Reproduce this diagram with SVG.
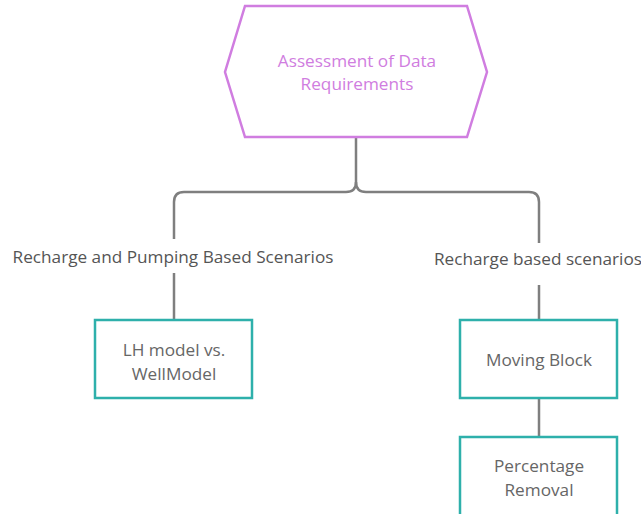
<svg xmlns="http://www.w3.org/2000/svg" width="641" height="514" viewBox="0 0 641 514">
  <style>
    .conn { fill: none; stroke: #7f7f7f; stroke-width: 2.5; }
    .box { fill: #ffffff; stroke: #2eb0ab; stroke-width: 2.5; }
    .hex { fill: #ffffff; stroke: #d07de0; stroke-width: 2.5; }
    text { font-family: "Open Sans", "Noto Sans", sans-serif; font-size: 17.2px; text-anchor: middle; }
    .t { fill: #666666; }
    .lbl { fill: #555555; }
    .ht { fill: #d07de0; }
  </style>
  <rect width="641" height="514" fill="#ffffff"/>
  <g id="connectors">
    <path class="conn" d="M356,137 V182 Q356,192 346,192 H184 Q174,192 174,202 V239"/>
    <path class="conn" d="M356,182 Q356,192 366,192 H529 Q539,192 539,202 V243"/>
    <path class="conn" d="M174,273 V320"/>
    <path class="conn" d="M539,285 V320"/>
    <path class="conn" d="M539,398 V437"/>
    <text class="lbl" x="173" y="263">Recharge and Pumping Based Scenarios</text>
    <text class="lbl" x="538" y="265">Recharge based scenarios</text>
  </g>
  <g id="assessment">
    <polygon class="hex" points="245,6 467,6 487,72 467,137 245,137 225,72"/>
    <text class="ht" x="357" y="67">Assessment of Data</text>
    <text class="ht" x="357" y="90">Requirements</text>
  </g>
  <g id="lh-model">
    <rect class="box" x="95" y="320" width="157" height="78"/>
    <text class="t" x="174" y="356">LH model vs.</text>
    <text class="t" x="174" y="380">WellModel</text>
  </g>
  <g id="moving-block">
    <rect class="box" x="460" y="320" width="157" height="78"/>
    <text class="t" x="539" y="366">Moving Block</text>
  </g>
  <g id="percentage-removal">
    <rect class="box" x="460" y="437" width="157" height="90"/>
    <text class="t" x="539" y="472">Percentage</text>
    <text class="t" x="539" y="496">Removal</text>
  </g>
</svg>
